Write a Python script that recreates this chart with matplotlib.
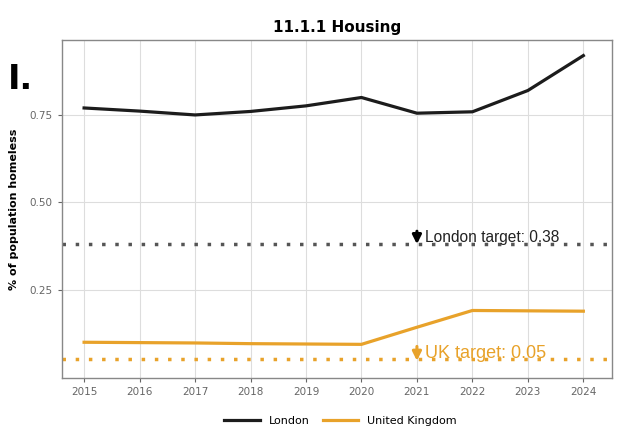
import matplotlib
matplotlib.use("Agg")
import matplotlib.pyplot as plt

years = [2015, 2016, 2017, 2018, 2019, 2020, 2021, 2022, 2023, 2024]
london = [0.770, 0.761, 0.750, 0.760, 0.776, 0.800, 0.755, 0.759, 0.820, 0.920]
uk = [0.099, 0.098, 0.097, 0.095, 0.094, 0.093, 0.142, 0.190, 0.189, 0.188]
london_target = 0.38
uk_target = 0.05
yticks = [0.25, 0.50, 0.75]

dark = "#1c1c1c"
orange = "#E8A22A"
sans = ["Liberation Sans", "DejaVu Sans"]

fig = plt.figure(figsize=(6.19, 4.43), dpi=100)
fig.patch.set_facecolor("white")
ax = fig.add_axes([0.1, 0.147, 0.889, 0.763])

ax.plot(years, london, color=dark, lw=2.3, label="London", zorder=3)
ax.plot(years, uk, color=orange, lw=2.3, label="United Kingdom", zorder=3)

ax.axhline(london_target, color="#555555", lw=2.5, linestyle=(0, (1, 2.8)), zorder=2)
ax.axhline(uk_target, color=orange, lw=2.5, linestyle=(0, (1, 2.8)), zorder=2)

ax.annotate("", xy=(2021, london_target - 0.008), xytext=(2021, london_target + 0.045),
            arrowprops=dict(arrowstyle="-|>", color="black", lw=2.2, mutation_scale=13))
ax.text(2021.15, london_target + 0.02, "London target: 0.38", fontsize=11.2,
        color="#222222", va="center", ha="left", family=sans)
ax.annotate("", xy=(2021, uk_target - 0.012), xytext=(2021, uk_target + 0.045),
            arrowprops=dict(arrowstyle="-|>", color=orange, lw=2.2, mutation_scale=13))
ax.text(2021.15, uk_target + 0.018, "UK target: 0.05", fontsize=13,
        color=orange, va="center", ha="left", family=sans)

ax.set_xlim(2014.6, 2024.52)
ax.set_ylim(-0.003, 0.965)
ax.set_xticks(years)
ax.set_yticks(yticks)
ax.set_yticklabels(["%.2f" % v for v in yticks])
ax.tick_params(labelsize=7.5, colors="#666666", length=3)
ax.grid(True, color="#dddddd", lw=0.8)
ax.set_axisbelow(True)
for s in ax.spines.values():
    s.set_color("#888888")
    s.set_linewidth(1.0)

ax.set_ylabel("% of population homeless", fontsize=8, fontweight="bold", labelpad=8)
ax.set_title("11.1.1 Housing", fontsize=11, fontweight="bold", pad=6,
             family=["DejaVu Sans Condensed", "DejaVu Sans"])

fig.text(0.012, 0.82, "I.", fontsize=24, fontweight="bold", ha="left", va="center",
         family=["DejaVu Sans Condensed", "DejaVu Sans"])

fig.legend(loc="center", bbox_to_anchor=(0.55, 0.05), ncol=2, frameon=False,
           fontsize=8, handlelength=3.2, columnspacing=1.2)

fig.savefig("out.png", dpi=100)
